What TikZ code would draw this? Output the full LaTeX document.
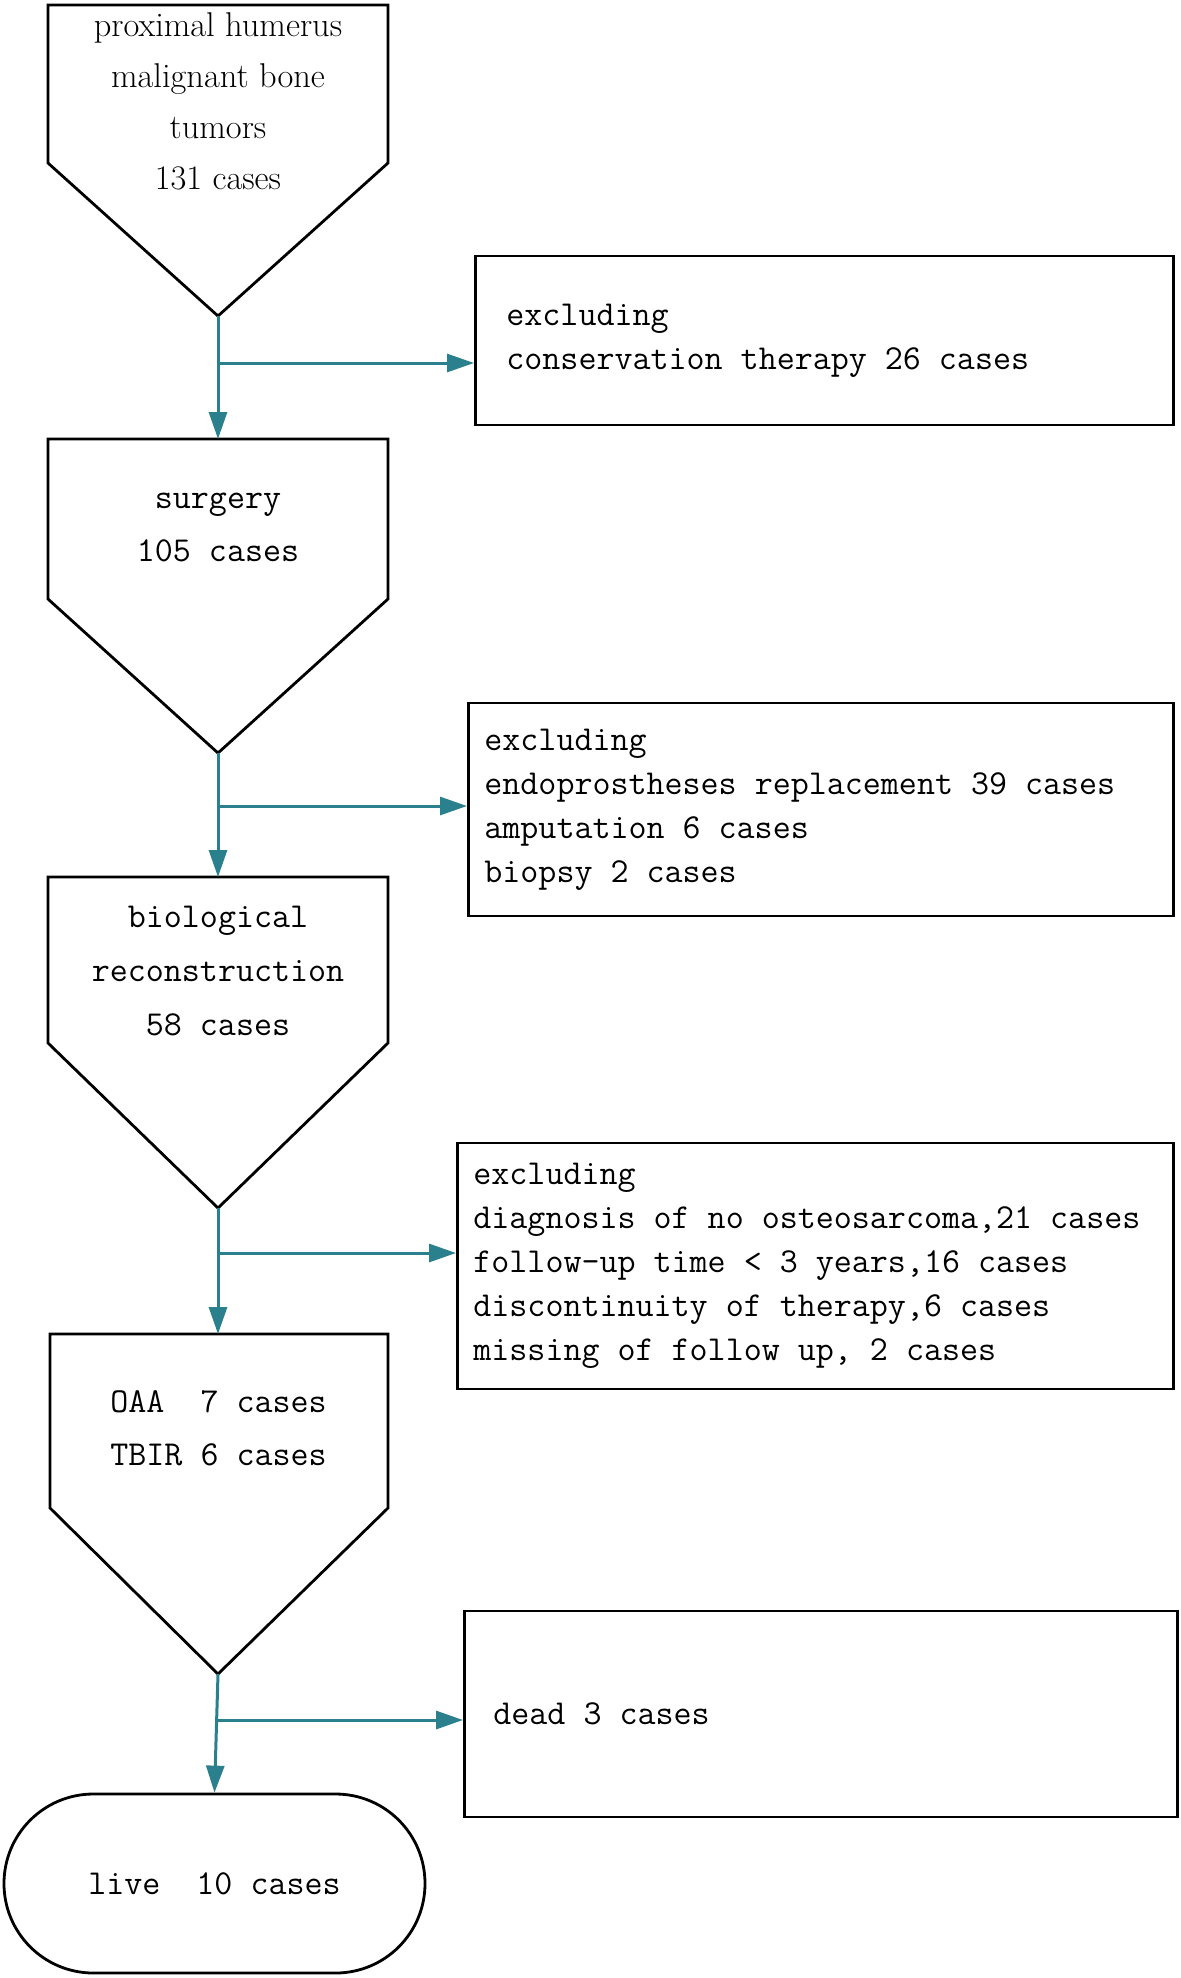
\documentclass[tikz,border=0pt]{standalone}
\usepackage{fontspec}
\usetikzlibrary{arrows.meta}
\definecolor{flowteal}{RGB}{42,128,140}

\begin{document}
\begin{tikzpicture}[x=0.5pt, y=-0.5pt,
  flow/.style={draw=flowteal, line width=1.5pt, -{Triangle[length=13.5pt, width=9pt]}},
  outline/.style={line width=1.4pt},
  excludebox/.style={draw, outline, anchor=west, align=flush left, inner ysep=0pt, font=\fontsize{17.5}{22}\selectfont\ttfamily},
  steptext/.style={align=center, font=\fontsize{17.5}{26.5}\selectfont\ttfamily}]
\pgfmathsetmacro{\leftedge}{48}
\pgfmathsetmacro{\rightedge}{388}
\pgfmathsetmacro{\midx}{218}

\useasboundingbox (0,0) rectangle (1181,1978);

\coordinate (tumors_tip) at (\midx,316);
\coordinate (surgery_top) at (\midx,439);
\coordinate (surgery_tip) at (\midx,753);
\coordinate (bio_top) at (\midx,877);
\coordinate (bio_tip) at (\midx,1208);
\coordinate (graft_top) at (\midx,1334);
\coordinate (graft_tip) at (\midx,1674);
\coordinate (split_one) at (\midx,363);
\coordinate (split_two) at (\midx,806);
\coordinate (split_three) at (\midx,1253);
\coordinate (split_four) at (\midx,1720);

% step shapes
\draw [outline] (\leftedge,5) -- (\rightedge,5) -- (\rightedge,163) -- (tumors_tip) -- (\leftedge,163) -- cycle;
\draw [outline] (\leftedge,439) -- (\rightedge,439) -- (\rightedge,599) -- (surgery_tip) -- (\leftedge,599) -- cycle;
\draw [outline] (\leftedge,877) -- (\rightedge,877) -- (\rightedge,1043) -- (bio_tip) -- (\leftedge,1043) -- cycle;
\draw [outline] (50,1334) -- (\rightedge,1334) -- (\rightedge,1508) -- (graft_tip) -- (50,1508) -- cycle;

\node (tumors) [align=center, font=\fontsize{17.2}{25.5}\selectfont] at (\midx,101) {proximal humerus\\malignant bone\\tumors\\131 cases};
\node (surgery) [steptext] at (\midx,527) {surgery\\105 cases};
\node (biological) [steptext, font=\fontsize{17.5}{27}\selectfont\ttfamily] at (\midx,971) {biological\\reconstruction\\58 cases};
\node (graft) [steptext, align=left, anchor=west, inner xsep=0pt] at (110,1428) {OAA~~7 cases\\TBIR 6 cases};

\node (live) [draw, outline, rounded corners=44.7pt, minimum width=210.5pt, minimum height=89.5pt, font=\fontsize{17.5}{22}\selectfont\ttfamily] at (214.5,1883.5) {live~~10 cases};

% exclusion boxes
\node (excl_conservation) [excludebox, inner xsep=15.5pt, text width=318pt, minimum height=84.5pt] at (474,340.5) {excluding\\conservation therapy 26 cases};
\node (excl_surgery) [excludebox, inner xsep=8pt, text width=336.5pt, minimum height=106.5pt] at (467,809.5) {excluding\\endoprostheses replacement 39 cases\\amputation 6 cases\\biopsy 2 cases};
\node (excl_bio) [excludebox, inner xsep=8pt, text width=342pt, minimum height=123pt] at (456,1266) {excluding\\diagnosis of no osteosarcoma,21 cases\\follow-up time < 3 years,16 cases\\discontinuity of therapy,6 cases\\missing of follow up, 2 cases};
\node (dead) [excludebox, inner xsep=14.5pt, text width=327.5pt, minimum height=103pt] at (463,1714) {dead 3 cases};

\draw [flow] (tumors_tip) -- (surgery_top);
\draw [flow] (split_one) -- (split_one -| excl_conservation.west);
\draw [flow] (surgery_tip) -- (bio_top);
\draw [flow] (split_two) -- (split_two -| excl_surgery.west);
\draw [flow] (bio_tip) -- (graft_top);
\draw [flow] (split_three) -- (split_three -| excl_bio.west);
\draw [flow] (graft_tip) -- (live.north);
\draw [flow] (split_four) -- (split_four -| dead.west);
\end{tikzpicture}
\end{document}
